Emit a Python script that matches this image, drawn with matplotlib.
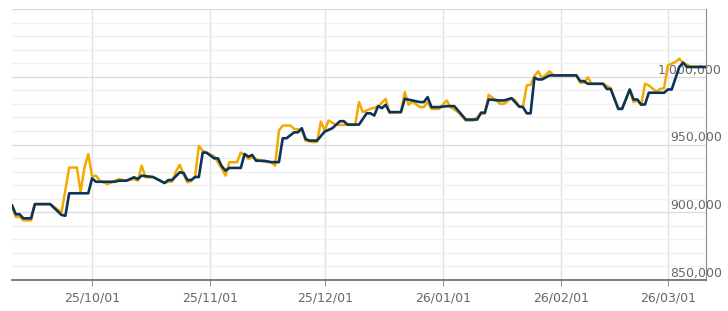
import numpy as np
import matplotlib
matplotlib.use("Agg")
import matplotlib.pyplot as plt
import matplotlib.dates as mdates
from matplotlib.ticker import FixedLocator, MultipleLocator, FuncFormatter

# day 0 = 2025-09-10, last point = day 182 (2026-03-11)
start_date = np.datetime64("2025-09-10")
last_day = 182

navy_days = [0, 1, 2, 3, 5, 6, 10, 13, 14, 15, 20, 21, 22, 27, 28, 30, 32, 33, 34, 37,
             40, 41, 42, 44, 45, 46, 47, 48, 49, 50, 51, 53, 54, 55, 56, 57, 60, 61, 62, 63,
             64, 66, 68, 70, 71, 72, 74, 75, 76, 77, 78, 80, 82, 84, 86, 87, 88, 91, 93, 94,
             95, 96, 97, 98, 99, 102, 103, 105, 107, 108, 109, 110, 112, 114, 116, 117, 119, 122, 123, 124,
             125, 128, 129, 131, 133, 134, 135, 136, 137, 138, 139, 141, 148, 149, 150, 151, 155, 156, 157, 158,
             159, 160, 162, 163, 164, 165, 166, 167, 171, 172, 173, 175, 176, 177, 182]
navy_values = [905000, 898500, 898500, 895500, 895500, 906000, 906000, 898000, 897400, 914000,
               914000, 925000, 922500, 922500, 923300, 923300, 925800, 924500, 927000, 926000,
               921600, 923800, 923800, 929500, 929000, 923800, 923800, 926000, 926000, 944000,
               944000, 939800, 939800, 934000, 930700, 932700, 932700, 943000, 941000, 942300,
               938000, 938000, 937000, 937000, 954600, 954600, 959000, 959000, 962000, 954000,
               952900, 952900, 959500, 962000, 967200, 967200, 964700, 964700, 973000, 973000,
               971400, 978300, 976800, 979300, 973900, 973900, 983700, 982500, 981300, 981300,
               985000, 977600, 977600, 978300, 978300, 975000, 968400, 968400, 973500, 973500,
               983200, 982500, 982500, 984200, 978000, 977600, 973000, 973000, 999300, 998000,
               998000, 1001000, 1001000, 996800, 996800, 994800, 994800, 991000, 991000, 983700,
               976300, 976300, 990600, 983200, 983200, 979500, 979500, 988200, 988200, 990600,
               990600, 1007200, 1010400, 1007200, 1007200]

orange_days = [0, 1, 2, 3, 5, 6, 10, 13, 15, 17, 18, 19, 20, 21, 22, 23, 25, 26, 28, 30,
               32, 33, 34, 35, 37, 40, 41, 42, 43, 44, 45, 46, 47, 48, 49, 50, 51, 53, 55, 56,
               57, 59, 60, 61, 62, 63, 64, 66, 68, 69, 70, 71, 73, 74, 76, 77, 79, 80, 81, 82,
               83, 85, 90, 91, 92, 94, 96, 98, 99, 102, 103, 104, 105, 107, 108, 109, 110, 112, 114, 115,
               117, 119, 121, 123, 124, 125, 127, 128, 129, 131, 132, 133, 134, 135, 136, 137, 138, 139, 141, 142,
               148, 149, 150, 151, 152, 155, 157, 158, 159, 160, 162, 163, 164, 165, 166, 167, 169, 170, 171, 172,
               174, 175, 176, 177, 178, 182]
orange_values = [905000, 896500, 896500, 894000, 894000, 906000, 906000, 900000, 933000, 933000,
                 915000, 933000, 943000, 926500, 927000, 923300, 920800, 922000, 924500, 923300,
                 924500, 923300, 934400, 925800, 926000, 921600, 922500, 922500, 930000, 935000,
                 928000, 922000, 923000, 926000, 949000, 945500, 944000, 941300, 932400, 927000,
                 936900, 936900, 944000, 942300, 939300, 940600, 939300, 937300, 936900, 934400,
                 960300, 964000, 964000, 961500, 960800, 952900, 951700, 952000, 967000, 960300,
                 967700, 964500, 964500, 981300, 973900, 976300, 978000, 983700, 973400, 973900,
                 988700, 979300, 981700, 977600, 977600, 981300, 976300, 976300, 982500, 977600,
                 973900, 967700, 967700, 972600, 972600, 986700, 982500, 980000, 980000, 984000,
                 982500, 978000, 978000, 993600, 994000, 1000500, 1004000, 999000, 1004000, 1001000,
                 1001000, 995600, 995600, 999500, 994800, 994800, 991600, 983700, 976300, 976300,
                 990600, 981300, 982500, 979000, 994800, 993600, 989000, 991000, 991600, 1008400,
                 1010900, 1013300, 1010000, 1008900, 1007500, 1007200]

y_major = [850000, 900000, 950000, 1000000, 1050000]
y_labelled = [850000, 900000, 950000, 1000000]


def to_dates(days):
    return start_date + np.array(days).astype("timedelta64[D]")


def y_label(value, pos):
    if value in y_labelled:
        return f"{int(value):,}"
    return ""


def main():
    fig = plt.figure(figsize=(7.28, 3.11), dpi=100)
    ax = fig.add_axes([12 / 728, 31 / 311, 694 / 728, 271 / 311])

    ax.plot(to_dates(orange_days), orange_values, color="#F2A900", lw=1.8, zorder=3)
    ax.plot(to_dates(navy_days), navy_values, color="#0B3458", lw=1.9, zorder=4)

    ax.set_xlim(start_date, start_date + np.timedelta64(last_day, "D"))
    ax.set_ylim(850000, 1050000)

    ax.xaxis.set_major_locator(mdates.MonthLocator(bymonthday=1))
    ax.xaxis.set_major_formatter(mdates.DateFormatter("%y/%m/%d"))
    ax.yaxis.set_major_locator(FixedLocator(y_major))
    ax.yaxis.set_minor_locator(MultipleLocator(10000))
    ax.yaxis.set_major_formatter(FuncFormatter(y_label))

    ax.grid(axis="y", which="major", color="#dcdcdc", lw=1)
    ax.grid(axis="y", which="minor", color="#f0f0f0", lw=1)
    ax.grid(axis="x", which="major", color="#e2e2e2", lw=1)
    ax.set_axisbelow(True)

    ax.spines["left"].set_visible(False)
    ax.spines["top"].set_visible(False)
    ax.spines["right"].set_color("#8a8a8a")
    ax.spines["bottom"].set_color("#666666")
    ax.spines["bottom"].set_linewidth(1.2)

    ax.yaxis.tick_right()
    ax.tick_params(axis="y", which="both", length=0, labelsize=9,
                   labelcolor="#666666", pad=11.5)
    ax.tick_params(axis="x", length=4, color="#999999", labelsize=9,
                   labelcolor="#666666", pad=4)
    fig.canvas.draw()
    for lbl in ax.get_yticklabels():
        lbl.set_horizontalalignment("right")
        lbl.set_verticalalignment("bottom")

    fig.savefig("out.png", dpi=100)


if __name__ == "__main__":
    main()
